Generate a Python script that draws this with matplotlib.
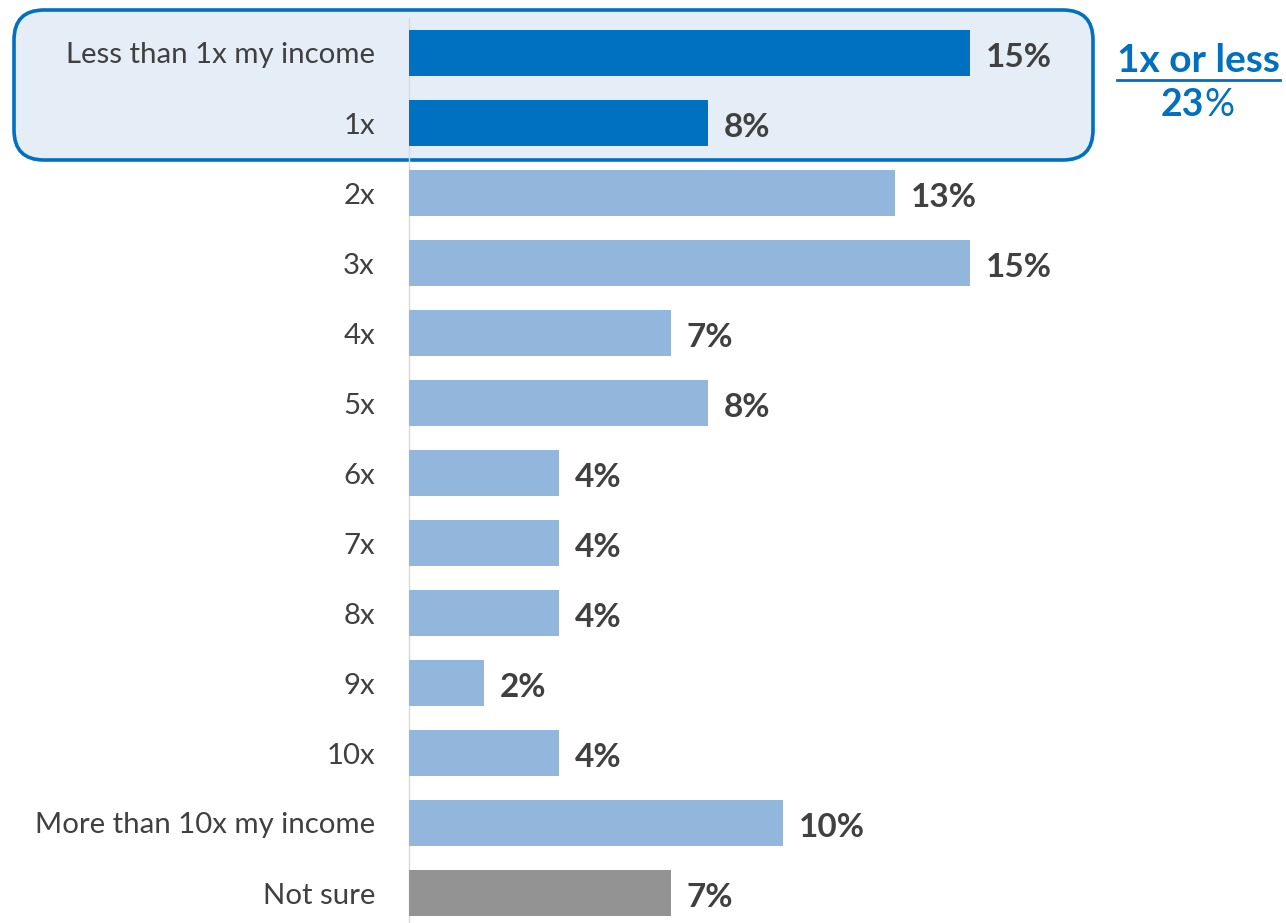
import numpy as np
import matplotlib
matplotlib.use("Agg")
from matplotlib import pyplot as plt
from matplotlib.patches import FancyBboxPatch
from matplotlib.transforms import IdentityTransform

plt.rcParams['font.family'] = ['Lato', 'DejaVu Sans']

# data, top to bottom
categories = ["Less than 1x my income", "1x", "2x", "3x", "4x", "5x", "6x",
              "7x", "8x", "9x", "10x", "More than 10x my income", "Not sure"]
values = [15, 8, 13, 15, 7, 8, 4, 4, 4, 2, 4, 10, 7]
group_label = "1x or less"
group_value = "23"

dark_blue = "#0070C0"
light_blue = "#93B7DC"
grey_bar = "#939393"
text_grey = "#404040"

colors = [dark_blue, dark_blue] + [light_blue] * 10 + [grey_bar]

W, H = 1286, 923
fig = plt.figure(figsize=(W / 100, H / 100), dpi=100)

# axes start at the bar baseline (pixel 409), 37.4 px per percent
px_per_pct = 37.4
x0 = 409
ax = fig.add_axes([x0 / W, 0, (W - x0) / W, 1])
ax.set_xlim(0, (W - x0) / px_per_pct)
# rows every 70 px, first row centre at 53 px from top
ax.set_ylim((H - 53) / 70, -53 / 70)
ax.patch.set_visible(False)
for s in ax.spines.values():
    s.set_visible(False)

y = np.arange(len(categories))
ax.barh(y, values, height=0.66, color=colors, zorder=2)

# thin baseline
ax.plot([0, 0], [-0.5, len(categories) + 1], color="#D9D9D9", lw=1, zorder=1, clip_on=False)

ax.set_xticks([])
ax.set_yticks(y)
ax.set_yticklabels(categories, fontsize=21.2, color=text_grey)
ax.tick_params(axis="y", length=0, pad=24.5)

for yi, v in zip(y, values):
    ax.annotate(f"{v}%", (v, yi), xytext=(11.5, -3), textcoords="offset points",
                ha="left", va="center", fontsize=24, fontweight="bold",
                color=text_grey, zorder=3)

# highlight box around the first two rows (pixel coordinates)
box = FancyBboxPatch((14, H - 160), 1093 - 14, 150,
                     boxstyle="round,pad=0,rounding_size=30",
                     transform=IdentityTransform(), facecolor="#E5EDF7",
                     edgecolor=dark_blue, linewidth=2.6, clip_on=False, zorder=0.5)
ax.add_patch(box)

# group summary on the right
fig.text(1198 / W, 1 - 60 / H, group_label, ha="center", va="center",
         fontsize=28, fontweight="bold", color=dark_blue)
fig.add_artist(plt.Line2D([1117 / W, 1280 / W], [1 - 80 / H, 1 - 80 / H],
                          color=dark_blue, lw=2))
fig.text(1204 / W, 1 - 105 / H, group_value, ha="right", va="center",
         fontsize=27, fontweight="bold", color=dark_blue)
fig.text(1204 / W, 1 - 105 / H, "%", ha="left", va="center",
         fontsize=27, color=dark_blue)

fig.savefig("out.png", dpi=100)
